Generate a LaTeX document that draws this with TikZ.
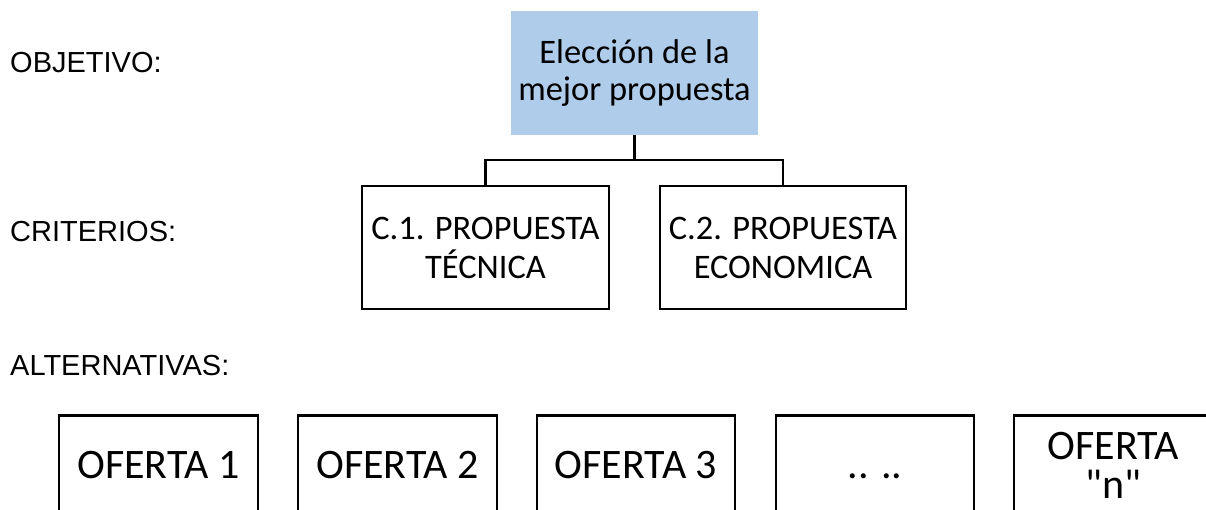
\documentclass[tikz,border=0pt]{standalone}
\usepackage{fontspec}
\setmainfont{Carlito}[Ligatures=TeXOff]
\newfontfamily\arialf{Liberation Sans}
\definecolor{goalblue}{RGB}{175,205,234}
\begin{document}
\begin{tikzpicture}[x=1pt,y=-1pt,
  levellabel/.style={anchor=base west,inner sep=0pt,font=\arialf\fontsize{29}{34}\selectfont},
  goalbox/.style={fill=goalblue,inner sep=0pt,minimum width=247pt,minimum height=124pt,align=center,font=\fontsize{34.4}{37.5}\selectfont},
  critbox/.style={draw,line width=2.5pt,inner sep=0pt,minimum height=123pt,align=center,font=\fontsize{34.4}{39}\selectfont},
  altbox/.style={draw,line width=2.5pt,inner sep=0pt,anchor=north,minimum height=100pt,align=center,font=\fontsize{42}{39}\selectfont},
  link/.style={line width=2.5pt}]
\useasboundingbox (0,0) rectangle (1206,510);
\node[levellabel] (lobj) at (10,73) {OBJETIVO:};
\node[levellabel] (lcrit) at (10,242) {CRITERIOS:};
\node[levellabel] (lalt) at (10,375) {ALTERNATIVAS:};
\node[goalbox] (goal) at (634.5,73) {Elección de la\\mejor propuesta};
\node[critbox,minimum width=247pt] (c1) at (485.5,247.5) {C.1. PROPUESTA\\TÉCNICA};
\node[critbox,minimum width=246pt] (c2) at (783,247.5) {C.2. PROPUESTA\\ECONOMICA};
\coordinate (mid) at (634.5,160);
\draw[link] (goal.south) -- (mid);
\draw[link] (c1.north) |- (mid) -| (c2.north);
\node[altbox,minimum width=199pt] (o1) at (158.5,414) {OFERTA 1};
\node[altbox,minimum width=199pt] (o2) at (397.5,414) {OFERTA 2};
\node[altbox,minimum width=198pt] (o3) at (636,414) {OFERTA 3};
\node[altbox,minimum width=198pt] (o4) at (875,414) {\vphantom{OFERTA}.. ..};
\node[altbox,minimum width=199pt] (o5) at (1113.5,414) {OFERTA\\"n"};
\end{tikzpicture}
\end{document}
